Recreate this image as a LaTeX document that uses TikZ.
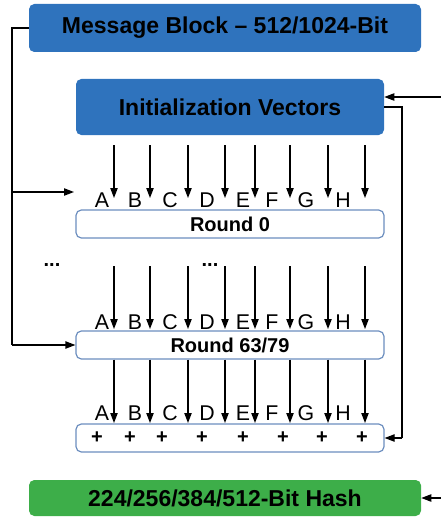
\documentclass[tikz,border=0pt]{standalone}
\usepackage{fontspec}
\setmainfont{Liberation Sans}
\usetikzlibrary{arrows.meta}
\definecolor{boxblue}{HTML}{2F73BD}
\definecolor{boxgreen}{HTML}{3DAE49}
\definecolor{rndborder}{HTML}{6C8EBF}
\begin{document}
\begin{tikzpicture}[x=0.75pt,y=-0.75pt,
  bigbox/.style={draw=none, rounded corners=4pt, inner sep=0pt, minimum width=294pt,
    font=\fontsize{17.25}{20}\selectfont\bfseries},
  rndbox/.style={draw=rndborder, line width=0.9pt, fill=white, rounded corners=4pt, inner sep=0pt,
    minimum width=231pt, minimum height=21pt, font=\fontsize{15}{18}\selectfont\bfseries},
  conn/.style={line width=0.9pt, -{Triangle[length=7.5pt,width=5.5pt]}},
  wire/.style={line width=0.9pt},
  lbl/.style={font=\fontsize{16}{18}\selectfont, inner sep=0pt},
  plus/.style={font=\fontsize{15}{18}\selectfont\bfseries, inner sep=0pt},
  dots/.style={font=\fontsize{15}{18}\selectfont\bfseries, inner sep=0pt, anchor=base},
]
\useasboundingbox (0,0) rectangle (441,517);

% boxes
\node[bigbox, fill=boxblue, minimum height=36pt] (msg) at (225,28) {Message Block -- 512/1024-Bit};
\node[bigbox, fill=boxblue, minimum width=231pt, minimum height=42pt] (iv) at (230,107) {Initialization Vectors};
\node[rndbox] (r0) at (230,224) {Round 0};
\node[rndbox] (r63) at (230,345) {Round 63/79};
\node[rndbox] (add) at (230,438) {};
\node[bigbox, fill=boxgreen, minimum height=27pt] (hash) at (225,498) {224/256/384/512-Bit Hash};

% dots
\node[dots] (d1) at (52,266) {...};
\node[dots] (d2) at (210,266) {...};

% letters
\foreach \x/\l [count=\i] in {102/A,135/B,170/C,207/D,243/E,272/F,306/G,343/H}{
  \node[lbl] (la\i) at (\x,200) {\l};
  \node[lbl] (lb\i) at (\x,322) {\l};
  \node[lbl] (lc\i) at (\x,413) {\l};
}

% plus signs
\foreach \x [count=\i] in {97,130,162,202,243,283,322,362}{
  \node[plus] (p\i) at (\x,438) {+};
}

% column arrows
\foreach \x [count=\i] in {114,150,188,225,255,290,328,365}{
  \coordinate (s\i) at (\x,145);
  \coordinate (e\i) at (\x,198);
  \coordinate (f\i) at (\x,266);
  \coordinate (g\i) at (\x,329);
  \coordinate (h\i) at (\x,423);
  \draw[conn] (s\i) -- (e\i);
  \draw[conn] (f\i) -- (g\i);
  \draw[conn] (r63.south -| s\i) -- (h\i);
}

% left feedback
\coordinate (lt) at (12,28);
\coordinate (lb) at (12,345);
\coordinate (lr0) at (74,192);
\draw[wire] (msg.west) -- (lt) -- (lb);
\draw[conn] (lb) -- (r63.west);
\draw[conn] (12,192) -- (lr0);

% right side
\coordinate (inIV) at (441,97);
\coordinate (rt) at (402,107);
\coordinate (rb) at (402,438);
\coordinate (inH) at (441,498);
\draw[conn] (inIV) -- (iv.east |- inIV);
\draw[wire] (iv.east |- rt) -- (rt) -- (rb);
\draw[conn] (rb) -- (add.east);
\draw[conn] (inH) -- (hash.east);
\end{tikzpicture}
\end{document}
